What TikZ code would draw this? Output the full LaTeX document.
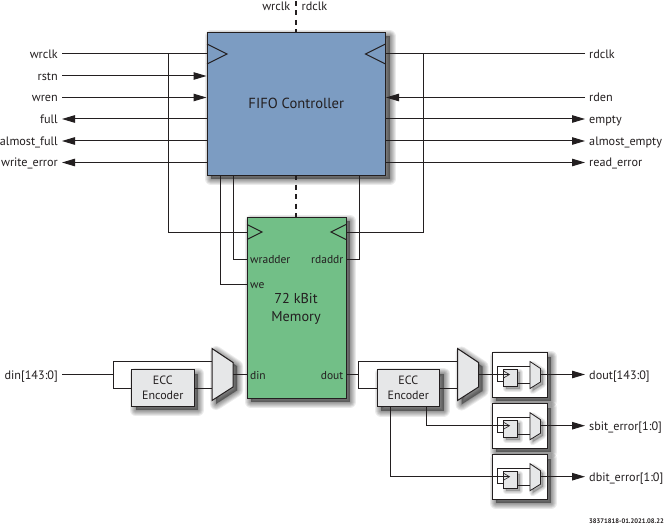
\documentclass[tikz,border=0pt]{standalone}
\usepackage{fontspec}
\setmainfont{PT Sans}
\usetikzlibrary{arrows.meta}
\definecolor{fifoblue}{HTML}{7C9CC2}
\definecolor{memgreen}{HTML}{72BF87}
\definecolor{boxgrey}{HTML}{E6E7E8}
\definecolor{inkc}{HTML}{231F20}
\newcommand{\softshadow}[1]{%
  \foreach \w in {12,10,8,6,4,2}{%
    \path[fill=black,draw=black,fill opacity=.08,draw opacity=.08,line width=\w pt,line join=round,shift={(4,4)}] #1;}}
\newcommand{\smallshadow}[1]{%
  \foreach \w in {6,4,2}{%
    \path[fill=black,draw=black,fill opacity=.08,draw opacity=.08,line width=\w pt,line join=round,shift={(2.5,2.5)}] #1;}}
\newcommand{\muxpath}[2]{(#1,#2-26) -- (#1+21,#2-12) -- (#1+21,#2+12.5) -- (#1,#2+26) -- cycle}
\newcommand{\ffgroup}[3]{% prefix, top y, signal y
  \softshadow{(492,#2) rectangle (547,#2+44.5)}
  \node[outerbox,minimum width=55pt,minimum height=44.5pt] (#1box) at (519.5,#2+22.25) {};
  \smallshadow{(503.5,#3-5) rectangle (517,#3+11.5)}
  \smallshadow{(530,#3-13) -- (540.5,#3-6) -- (540.5,#3+7.5) -- (530,#3+14) -- cycle}
  \node[greybox,line width=.8pt,minimum width=13.5pt,minimum height=16.5pt] (#1ff) at (510.25,#3+3.25) {};
  \draw[wire,line width=.8pt,fill=boxgrey] (530,#3-13) -- (540.5,#3-6) -- (540.5,#3+7.5) -- (530,#3+14) -- cycle;
  \draw[thinwire] (503.5,#3-3.5) -- (509.5,#3) -- (503.5,#3+3.5);
  \coordinate (#1mi1) at (530,#3-8.5);
  \coordinate (#1mi2) at (530,#3+8.5);
  \coordinate (#1mo) at (540.5,#3);
  \coordinate (#1b) at (497.5,#3);
  \coordinate (#1clk) at (509,#3);
  \coordinate (#1d) at (503.5,#3+6.5);
  \draw[wire,line width=.8pt] (#1b) |- (#1mi1);
  \draw[wire,line width=.8pt] (#1b) |- (#1d);
  \draw[wire,line width=.8pt] (#1ff.east |- #1mi2) -- (#1mi2);
}
\tikzset{
  x=1pt,y=-1pt,
  wire/.style={draw=inkc,line width=1pt},
  thinwire/.style={draw=inkc,line width=.6pt},
  dashwire/.style={draw=inkc,line width=1.3pt,dash pattern=on 5pt off 4.5pt},
  tip/.style={wire,-{Triangle[length=13pt,width=7.5pt]}},
  sig/.style={inner sep=4pt,text height=10pt,text depth=1pt,font=\fontsize{12.2}{14}\selectfont,text=inkc},
  pin/.style={inner sep=0pt,text height=10pt,text depth=1pt,font=\fontsize{11.5}{13}\selectfont,text=inkc},
  blockbox/.style={draw=inkc,line width=1pt,inner sep=0pt,align=center,text=inkc},
  greybox/.style={blockbox,fill=boxgrey},
  outerbox/.style={blockbox,fill=white},
  eccbox/.style={greybox,minimum width=62.5pt,minimum height=37pt,font=\fontsize{12}{15}\selectfont},
}
\begin{document}
\begin{tikzpicture}
\useasboundingbox[fill=white] (0,0) rectangle (664,524);
% shadows
\softshadow{(207,32.5) rectangle (385.5,175)}
\softshadow{(247,217) rectangle (346,398)}
\softshadow{(131.5,369.5) rectangle (194,406)}
\softshadow{(377,369.5) rectangle (439.5,406.5)}
\softshadow{\muxpath{212}{374}}
\softshadow{\muxpath{457.5}{374.5}}
% labels
\node[sig,anchor=east] (wrclkL) at (62,54) {wrclk};
\node[sig,anchor=east] (rstnL) at (62,76) {rstn};
\node[sig,anchor=east] (wrenL) at (62,97.5) {wren};
\node[sig,anchor=east] (fullL) at (62,119) {full};
\node[sig,anchor=east] (afullL) at (62,141) {almost\_full};
\node[sig,anchor=east] (werrL) at (62,162.5) {write\_error};
\node[sig,anchor=east] (dinL) at (62,374.5) {din[143:0]};
\node[sig,anchor=west] (rdclkL) at (585,54) {rdclk};
\node[sig,anchor=west] (rdenL) at (585,97.5) {rden};
\node[sig,anchor=west] (emptyL) at (585,119) {empty};
\node[sig,anchor=west] (aemptyL) at (585,141) {almost\_empty};
\node[sig,anchor=west] (rerrL) at (585,162.5) {read\_error};
\node[sig,anchor=west] (doutL) at (585,374.5) {dout[143:0]};
\node[sig,anchor=west] (sbitL) at (585,425.7) {sbit\_error[1:0]};
\node[sig,anchor=west] (dbitL) at (585,476.7) {dbit\_error[1:0]};
\node[sig,anchor=east] (wrclkT) at (294.5,6.5) {wrclk};
\node[sig,anchor=west] (rdclkT) at (297.5,6.5) {rdclk};
\node[inner sep=0pt,anchor=east,text=inkc,font=\fontsize{6.6}{7}\selectfont\bfseries] (stamp) at (664,521) {38371818-01.2021.08.22};
% blocks
\node[blockbox,fill=fifoblue,minimum width=178.5pt,minimum height=142.5pt,font=\fontsize{14.6}{17}\selectfont] (fifo) at (296.25,103.75) {FIFO Controller};
\node[blockbox,fill=memgreen,minimum width=99pt,minimum height=181pt] (mem) at (296.5,307.5) {};
\node[text=inkc,align=center,font=\fontsize{14.3}{18}\selectfont,inner sep=0pt] (memT) at (296,308.5) {72 kBit\\Memory};
\node[pin,anchor=west] (wraddrP) at (250,259) {wradder};
\node[pin,anchor=west] (weP) at (250,284) {we};
\node[pin,anchor=west] (dinP) at (250,374.5) {din};
\node[pin,anchor=east] (rdaddrP) at (343.5,259) {rdaddr};
\node[pin,anchor=east] (doutP) at (343.5,374.5) {dout};
\node[eccbox] (eccA) at (162.75,387.75) {ECC\\Encoder};
\node[eccbox] (eccB) at (408.25,387.75) {ECC\\Encoder};
\draw[wire,fill=boxgrey] \muxpath{212}{374.5};
\draw[wire,fill=boxgrey] \muxpath{457.5}{374.5};
\coordinate (muxAup) at (212,361);
\coordinate (muxAlo) at (212,388);
\coordinate (muxAout) at (233,374.5);
\coordinate (muxBup) at (457.5,361);
\coordinate (muxBlo) at (457.5,388);
\coordinate (muxBout) at (478.5,374.5);
% clock triangles
\coordinate (fifoCkL) at (207,54);
\coordinate (fifoCkR) at (385.5,54);
\coordinate (memCkL) at (247,232);
\coordinate (memCkR) at (346,232);
\draw[wire] ([yshift=10pt]fifoCkL) -- ++(20,10) -- ++(-20,10);
\draw[wire] ([yshift=10pt]fifoCkR) -- ++(-20,10) -- ++(20,10);
\draw[wire] ([yshift=7.5pt]memCkL) -- ++(15,7.5) -- ++(-15,7.5);
\draw[wire] ([yshift=7.5pt]memCkR) -- ++(-15,7.5) -- ++(15,7.5);
% dashed
\draw[dashwire] (296,1) -- (296,32.5);
\draw[dashwire] (296,175) -- (296,217);
% left interface
\draw[wire] (wrclkL.east) -- (fifoCkL);
\draw[tip] (rstnL.east) -- (rstnL.east -| fifo.west);
\draw[tip] (wrenL.east) -- (wrenL.east -| fifo.west);
\draw[tip] (fullL.east -| fifo.west) -- (fullL.east);
\draw[tip] (afullL.east -| fifo.west) -- (afullL.east);
\draw[tip] (werrL.east -| fifo.west) -- (werrL.east);
\coordinate (wrJ) at (168.5,54);
\draw[wire] (wrJ) |- (memCkL);
% right interface
\draw[wire] (rdclkL.west) -- (fifoCkR);
\draw[tip] (rdenL.west) -- (rdenL.west -| fifo.east);
\draw[tip] (emptyL.west -| fifo.east) -- (emptyL.west);
\draw[tip] (aemptyL.west -| fifo.east) -- (aemptyL.west);
\draw[tip] (rerrL.west -| fifo.east) -- (rerrL.west);
\coordinate (rdJ) at (423.7,54);
\draw[wire] (rdJ) |- (memCkR);
% fifo to memory
\coordinate (fA) at (220.5,175);
\coordinate (fB) at (233,175);
\coordinate (fC) at (359,175);
\draw[wire] (fA) |- (weP.west -| mem.west);
\draw[wire] (fB) |- (wraddrP.west -| mem.west);
\draw[wire] (fC) |- (rdaddrP.east -| mem.east);
% din path
\coordinate (dinJ) at (113.5,374.5);
\draw[wire] (dinL.east) -- (dinJ);
\draw[wire] (dinJ) |- (muxAup);
\draw[wire] (dinJ) |- (eccA.west |- muxAlo);
\draw[wire] (eccA.east |- muxAlo) -- (muxAlo);
\draw[wire] (muxAout) -- (muxAout -| mem.west);
% dout path
\coordinate (doutJ) at (358.7,374.5);
\draw[wire] (doutP.east -| mem.east) -- (doutJ);
\draw[wire] (doutJ) |- (muxBup);
\draw[wire] (doutJ) |- (eccB.west |- muxBlo);
\draw[wire] (eccB.east |- muxBlo) -- (muxBlo);
% output groups
\ffgroup{a}{352.7}{374.5}
\ffgroup{b}{403.7}{425.7}
\ffgroup{c}{454.7}{476.7}
\draw[wire] (muxBout) -- (aclk);
\draw[wire] (426.3,406.5) |- (bclk);
\draw[wire] (390.3,406.5) |- (cclk);
\draw[tip] (amo) -- (doutL.west);
\draw[tip] (bmo) -- (sbitL.west);
\draw[tip] (cmo) -- (dbitL.west);
\end{tikzpicture}
\end{document}
